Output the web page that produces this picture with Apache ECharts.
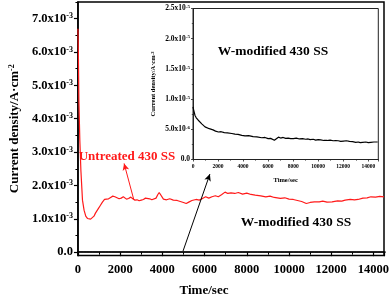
<!DOCTYPE html>
<html><head><meta charset="utf-8">
<script src="https://cdn.jsdelivr.net/npm/echarts@6/dist/echarts.min.js"></script>
<style>html,body{margin:0;padding:0;background:#fff}#c{width:392px;height:297px}</style>
</head><body><div id="c"></div>
<script>
// Untreated 430 SS: time (s) and current density (10^-3 A·cm^-2)
const redTime = [0,20,45,90,140,215,290,370,450,520,600,680,760,830,950,1060,1160,1260,1350,1450,1550,1650,1750,1850,1950,2050,2150,2210,2300,2400,2500,2600,2700,2800,2900,3000,3100,3200,3290,3400,3500,3590,3700,3780,3850,3920,4050,4200,4350,4520,4700,4850,5000,5130,5250,5400,5590,5750,5900,6050,6200,6350,6510,6650,6800,6970,7100,7250,7430,7600,7800,8000,8200,8400,8660,8900,9100,9300,9590,9800,10000,10200,10400,10600,10820,11000,11200,11430,11600,11800,12040,12300,12500,12660,12900,13100,13270,13500,13700,13880,14100,14300,14500];
const redCurrent = [6.7,6.0,4.55,3.35,2.45,1.56,1.26,1.08,1.01,0.98,0.99,1.02,1.08,1.17,1.29,1.40,1.50,1.58,1.62,1.60,1.64,1.68,1.66,1.63,1.60,1.62,1.66,1.63,1.59,1.61,1.65,1.60,1.56,1.57,1.54,1.56,1.58,1.62,1.64,1.60,1.57,1.56,1.62,1.72,1.79,1.74,1.59,1.57,1.60,1.56,1.55,1.52,1.49,1.46,1.50,1.55,1.58,1.56,1.61,1.66,1.62,1.66,1.69,1.66,1.72,1.80,1.76,1.78,1.76,1.79,1.74,1.77,1.73,1.71,1.69,1.66,1.68,1.64,1.61,1.63,1.59,1.58,1.55,1.52,1.46,1.49,1.51,1.51,1.53,1.50,1.51,1.54,1.53,1.56,1.58,1.57,1.58,1.62,1.63,1.66,1.65,1.67,1.66];
// W-modified 430 SS: time (s) and current density (10^-6 A·cm^-2)
const wTime = [0,40,100,160,260,420,560,700,850,960,1100,1300,1450,1600,1800,2030,2250,2500,2750,3100,3350,3600,3900,4160,4450,4800,5100,5490,5750,6000,6200,6350,6500,6560,6650,6820,7000,7200,7400,7600,7800,8020,8250,8500,8750,9000,9200,9360,9600,9800,10000,10200,10450,10700,10950,11200,11400,11600,11800,12020,12250,12500,12750,13000,13200,13360,13550,13800,14000,14200,14450,14750];
const wCurrent = [8.7,8.3,7.8,7.3,6.9,6.5,6.2,5.9,5.6,5.4,5.2,5.1,4.95,4.9,4.7,4.55,4.6,4.45,4.4,4.3,4.2,4.15,4.0,3.9,3.95,3.8,3.75,3.6,3.65,3.45,3.5,3.35,3.2,2.9,3.3,3.7,3.55,3.65,3.5,3.55,3.45,3.45,3.55,3.4,3.45,3.35,3.4,3.3,3.35,3.2,3.3,3.25,3.15,3.15,3.2,3.1,3.15,3.1,3.0,3.05,3.1,3.0,2.95,2.85,2.9,2.8,2.85,2.9,2.8,2.85,2.9,2.9];
// tick values
const mainYTicks = [0,1,2,3,4,5,6,7];
const mainYMinor = [0.5,1.5,2.5,3.5,4.5,5.5,6.5,7.5];
// annotation arrows [from, to] in data coordinates (time, 10^-3 A·cm^-2)
const redArrow = [[2640,1.59],[2186,2.66]];
const blackArrow = [[4977,0.03],[6251,2.34]];

const SERIF = "'Liberation Serif','Times New Roman',serif";
const chart = echarts.init(document.getElementById('c'), null, {renderer:'canvas'});
const rich = {
  b:{fontSize:12.5,fontWeight:'bold',fontFamily:SERIF,color:'#000'},
  s:{fontSize:8,fontWeight:'bold',fontFamily:SERIF,color:'#000',verticalAlign:'top'}
};
const richSmall = {
  b:{fontSize:7.5,fontWeight:'bold',fontFamily:SERIF,color:'#000'},
  s:{fontSize:5,fontWeight:'bold',fontFamily:SERIF,color:'#000',verticalAlign:'top'}
};
function mainLab(v){ if (Math.abs(v)<1e-9) return '{b|0.0}'; return '{b|'+v.toFixed(1)+'x10}{s|-3}'; }
function insetLab(v){ if (Math.abs(v)<1e-9) return '{b|0.0}'; if (v<10) return '{b|'+v.toFixed(1)+'x10}{s|-6}'; return '{b|'+(v/10).toFixed(1)+'x10}{s|-5}'; }
const plain = v => String(v);

const redData = redTime.map((t,i)=>[t,redCurrent[i]]);
const wMain = wTime.map((t,i)=>[t,wCurrent[i]*1e-3]);
const wInset = wTime.map((t,i)=>[t,wCurrent[i]]);

chart.setOption({
  animation:false,
  backgroundColor:'#fff',
  grid:[
    {left:72,right:8,top:2,bottom:41.5,show:true,borderColor:'#000',borderWidth:1.5},
    {left:193,right:13.7,top:8.5,bottom:137.5,show:true,borderColor:'#222',borderWidth:1,backgroundColor:'#fff',z:5}
  ],
  xAxis:[
    {gridIndex:0,type:'value',min:0,max:14500,interval:2000,
     axisLine:{lineStyle:{color:'#000',width:1.5}},
     axisTick:{length:4,lineStyle:{color:'#000',width:1.2}},
     minorTick:{show:true,splitNumber:2,length:2.5,lineStyle:{color:'#000',width:1}},
     axisLabel:{margin:8,fontSize:12.5,fontWeight:'bold',fontFamily:SERIF,color:'#000',showMaxLabel:false,formatter:plain},
     splitLine:{show:false}},
    {gridIndex:1,type:'value',min:0,max:14800,interval:2000,z:6,
     axisLine:{lineStyle:{color:'#222',width:1}},
     axisTick:{length:2,lineStyle:{color:'#222',width:0.8}},
     minorTick:{show:true,splitNumber:2,length:1.2,lineStyle:{color:'#222',width:0.7}},
     axisLabel:{margin:4,fontSize:5.5,fontWeight:'bold',fontFamily:SERIF,color:'#000',showMaxLabel:false,formatter:plain},
     splitLine:{show:false},
     name:'Time/sec',nameLocation:'middle',nameGap:17,
     nameTextStyle:{fontSize:6.5,fontWeight:'bold',fontFamily:SERIF,color:'#000'}}
  ],
  yAxis:[
    {gridIndex:0,type:'value',min:-0.1,max:7.5,position:'left',
     axisLine:{lineStyle:{color:'#000',width:1.5}},
     axisTick:{customValues:mainYTicks,length:4,lineStyle:{color:'#000',width:1.2}},
     axisLabel:{customValues:mainYTicks,margin:5,formatter:mainLab,rich:rich},
     splitLine:{show:false},
     name:'{b|Current density/A·cm}{s|-2}',nameLocation:'middle',nameGap:50,
     nameTextStyle:{rich:{b:{fontSize:13,fontWeight:'bold',fontFamily:SERIF,color:'#000'},s:{fontSize:8,fontWeight:'bold',fontFamily:SERIF,color:'#000',verticalAlign:'top'}}}},
    {gridIndex:0,type:'value',min:-0.1,max:7.5,position:'left',
     axisLine:{show:false},
     axisTick:{customValues:mainYMinor,length:2.5,lineStyle:{color:'#000',width:1}},
     axisLabel:{show:false},splitLine:{show:false}},
    {gridIndex:1,type:'value',min:0,max:25,interval:5,position:'left',z:6,
     axisLine:{lineStyle:{color:'#222',width:1}},
     axisTick:{length:2,lineStyle:{color:'#222',width:0.8}},
     minorTick:{show:true,splitNumber:2,length:1.2,lineStyle:{color:'#222',width:0.7}},
     axisLabel:{margin:3,formatter:insetLab,rich:richSmall},
     splitLine:{show:false},
     name:'{b|Current density/A·cm}{s|-2}',nameLocation:'middle',nameGap:36,
     nameTextStyle:{rich:{b:{fontSize:6.5,fontWeight:'bold',fontFamily:SERIF,color:'#000'},s:{fontSize:4.5,fontWeight:'bold',fontFamily:SERIF,color:'#000',verticalAlign:'top'}}}}
  ],
  series:[
    {type:'line',xAxisIndex:0,yAxisIndex:0,data:redData,showSymbol:false,
     lineStyle:{color:'#ff1a1a',width:1.2},
     markLine:{silent:true,symbol:['none','arrow'],symbolSize:[5,7],label:{show:false},
       lineStyle:{color:'#ff1a1a',width:1,type:'solid'},
       data:[[{coord:redArrow[0]},{coord:redArrow[1]}]]}},
    {type:'line',xAxisIndex:0,yAxisIndex:0,data:wMain,showSymbol:false,
     lineStyle:{color:'#000',width:1},
     markLine:{silent:true,symbol:['none','arrow'],symbolSize:[5,7],label:{show:false},
       lineStyle:{color:'#000',width:1,type:'solid'},
       data:[[{coord:blackArrow[0]},{coord:blackArrow[1]}]]}},
    {type:'line',xAxisIndex:1,yAxisIndex:2,data:wInset,showSymbol:false,z:7,
     lineStyle:{color:'#000',width:1.2}}
  ],
  graphic:[
    {type:'text',style:{text:'Untreated 430 SS',x:127,y:157,align:'center',verticalAlign:'middle',fill:'#ff1a1a',font:"bold 13px "+SERIF}},
    {type:'text',style:{text:'W-modified 430 SS',x:296,y:223,align:'center',verticalAlign:'middle',fill:'#000',font:"bold 13.5px "+SERIF}},
    {type:'text',z:10,style:{text:'W-modified 430 SS',x:273,y:52,align:'center',verticalAlign:'middle',fill:'#000',font:"bold 13.5px "+SERIF}},
    {type:'text',style:{text:'Time/sec',x:204,y:291,align:'center',verticalAlign:'middle',fill:'#000',font:"bold 13px "+SERIF}}
  ]
});
</script></body></html>
